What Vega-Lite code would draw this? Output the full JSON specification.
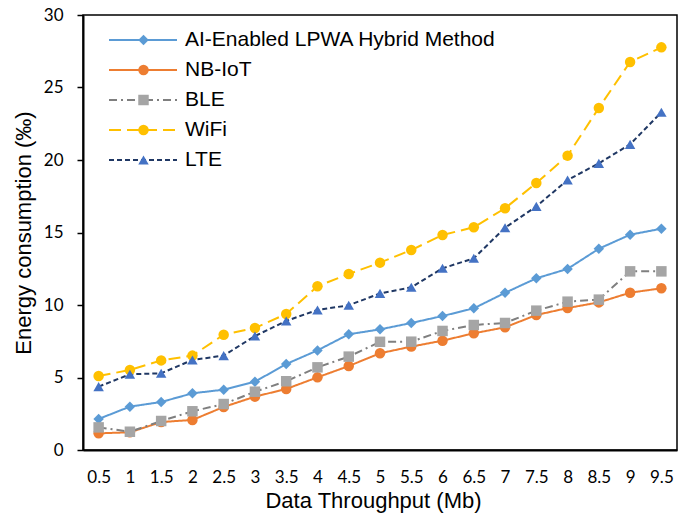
{
  "$schema": "https://vega.github.io/schema/vega-lite/v6.json",
  "width": 594,
  "height": 435,
  "autosize": {"type": "none"},
  "padding": {"left": 83, "top": 15, "right": 8, "bottom": 68},
  "background": "white",
  "config": {
    "view": {"stroke": "black", "strokeWidth": 1.5},
    "axis": {"grid": false, "domainColor": "black", "domainWidth": 2, "labelColor": "black", "titleColor": "black", "titleFont": "Liberation Sans", "titleFontWeight": "normal", "titleFontSize": 22, "labelFont": "Lato", "labelFontSize": 17}
  },
  "data": {
    "values": [
      {"x": 0.5, "AI-Enabled LPWA Hybrid Method": 2.14, "NB-IoT": 1.15, "BLE": 1.56, "WiFi": 5.10, "LTE": 4.37},
      {"x": 1, "AI-Enabled LPWA Hybrid Method": 2.99, "NB-IoT": 1.22, "BLE": 1.26, "WiFi": 5.52, "LTE": 5.22},
      {"x": 1.5, "AI-Enabled LPWA Hybrid Method": 3.31, "NB-IoT": 1.93, "BLE": 2.00, "WiFi": 6.18, "LTE": 5.29},
      {"x": 2, "AI-Enabled LPWA Hybrid Method": 3.91, "NB-IoT": 2.07, "BLE": 2.67, "WiFi": 6.51, "LTE": 6.21},
      {"x": 2.5, "AI-Enabled LPWA Hybrid Method": 4.16, "NB-IoT": 2.97, "BLE": 3.17, "WiFi": 7.95, "LTE": 6.51},
      {"x": 3, "AI-Enabled LPWA Hybrid Method": 4.71, "NB-IoT": 3.68, "BLE": 4.02, "WiFi": 8.41, "LTE": 7.86},
      {"x": 3.5, "AI-Enabled LPWA Hybrid Method": 5.93, "NB-IoT": 4.21, "BLE": 4.74, "WiFi": 9.38, "LTE": 8.90},
      {"x": 4, "AI-Enabled LPWA Hybrid Method": 6.87, "NB-IoT": 5.01, "BLE": 5.70, "WiFi": 11.29, "LTE": 9.66},
      {"x": 4.5, "AI-Enabled LPWA Hybrid Method": 7.98, "NB-IoT": 5.79, "BLE": 6.44, "WiFi": 12.14, "LTE": 9.98},
      {"x": 5, "AI-Enabled LPWA Hybrid Method": 8.32, "NB-IoT": 6.67, "BLE": 7.46, "WiFi": 12.92, "LTE": 10.80},
      {"x": 5.5, "AI-Enabled LPWA Hybrid Method": 8.76, "NB-IoT": 7.13, "BLE": 7.47, "WiFi": 13.79, "LTE": 11.22},
      {"x": 6, "AI-Enabled LPWA Hybrid Method": 9.24, "NB-IoT": 7.54, "BLE": 8.21, "WiFi": 14.83, "LTE": 12.53},
      {"x": 6.5, "AI-Enabled LPWA Hybrid Method": 9.77, "NB-IoT": 8.05, "BLE": 8.62, "WiFi": 15.36, "LTE": 13.22},
      {"x": 7, "AI-Enabled LPWA Hybrid Method": 10.84, "NB-IoT": 8.46, "BLE": 8.76, "WiFi": 16.67, "LTE": 15.33},
      {"x": 7.5, "AI-Enabled LPWA Hybrid Method": 11.84, "NB-IoT": 9.31, "BLE": 9.61, "WiFi": 18.41, "LTE": 16.80},
      {"x": 8, "AI-Enabled LPWA Hybrid Method": 12.49, "NB-IoT": 9.79, "BLE": 10.23, "WiFi": 20.30, "LTE": 18.62},
      {"x": 8.5, "AI-Enabled LPWA Hybrid Method": 13.88, "NB-IoT": 10.18, "BLE": 10.37, "WiFi": 23.59, "LTE": 19.77},
      {"x": 9, "AI-Enabled LPWA Hybrid Method": 14.85, "NB-IoT": 10.85, "BLE": 12.32, "WiFi": 26.76, "LTE": 21.08},
      {"x": 9.5, "AI-Enabled LPWA Hybrid Method": 15.26, "NB-IoT": 11.15, "BLE": 12.32, "WiFi": 27.77, "LTE": 23.29}
    ]
  },
  "transform": [
    {"fold": ["AI-Enabled LPWA Hybrid Method", "NB-IoT", "BLE", "WiFi", "LTE"], "as": ["series", "value"]}
  ],
  "encoding": {
    "x": {
      "field": "x", "type": "ordinal",
      "scale": {"type": "point", "padding": 0.5},
      "axis": {"title": "Data Throughput (Mb)", "labelAngle": 0, "ticks": false, "tickSize": 0, "labelPadding": 19, "titlePadding": 5, "titleX": 290}
    },
    "y": {
      "field": "value", "type": "quantitative",
      "scale": {"domain": [0, 30], "nice": false},
      "axis": {"title": "Energy consumption (‰)", "values": [0, 5, 10, 15, 20, 25, 30], "tickColor": "black", "tickWidth": 1.5, "tickSize": 6, "labelPadding": 14, "titlePadding": 8}
    }
  },
  "layer": [
    {
      "mark": {"type": "line", "strokeWidth": 2},
      "encoding": {
        "color": {
          "field": "series", "type": "nominal",
          "scale": {"domain": ["AI-Enabled LPWA Hybrid Method", "NB-IoT", "BLE", "WiFi", "LTE"], "range": ["#5B9BD5", "#ED7D31", "#7F7F7F", "#FFC000", "#203864"]},
          "legend": {
            "title": null,
            "orient": "none",
            "legendX": 25,
            "legendY": 14,
            "labelFont": "Liberation Sans",
            "labelFontSize": 21,
            "labelColor": "black",
            "labelLimit": 500,
            "symbolType": "stroke",
            "symbolSize": 4624,
            "symbolStrokeWidth": 2,
            "labelOffset": 7,
            "clipHeight": 22,
            "rowPadding": 8
          }
        },
        "strokeDash": {
          "field": "series", "type": "nominal",
          "scale": {"domain": ["AI-Enabled LPWA Hybrid Method", "NB-IoT", "BLE", "WiFi", "LTE"], "range": [[1, 0], [1, 0], [8, 4, 2, 4], [12, 6], [5, 3]]}
        }
      }
    },
    {
      "mark": {"type": "point", "filled": true, "opacity": 1, "strokeWidth": 0, "size": 110},
      "encoding": {
        "fill": {
          "field": "series", "type": "nominal",
          "scale": {"domain": ["NB-IoT", "AI-Enabled LPWA Hybrid Method", "BLE", "WiFi", "LTE"], "range": ["#ED7D31", "#5B9BD5", "#A5A5A5", "#FFC000", "#4472C4"]},
          "legend": {
            "title": null,
            "orient": "none",
            "legendX": 25,
            "legendY": 14,
            "values": ["AI-Enabled LPWA Hybrid Method", "NB-IoT", "BLE", "WiFi", "LTE"],
            "labelExpr": "''",
            "labelFontSize": 21,
            "symbolSize": 110,
            "symbolOffset": 25,
            "symbolStrokeWidth": 0,
            "symbolOpacity": 1,
            "clipHeight": 22,
            "rowPadding": 8
          }
        },
        "shape": {
          "field": "series", "type": "nominal",
          "scale": {"domain": ["NB-IoT", "AI-Enabled LPWA Hybrid Method", "BLE", "WiFi", "LTE"], "range": ["circle", "diamond", "square", "circle", "triangle-up"]}
        }
      }
    }
  ]
}
